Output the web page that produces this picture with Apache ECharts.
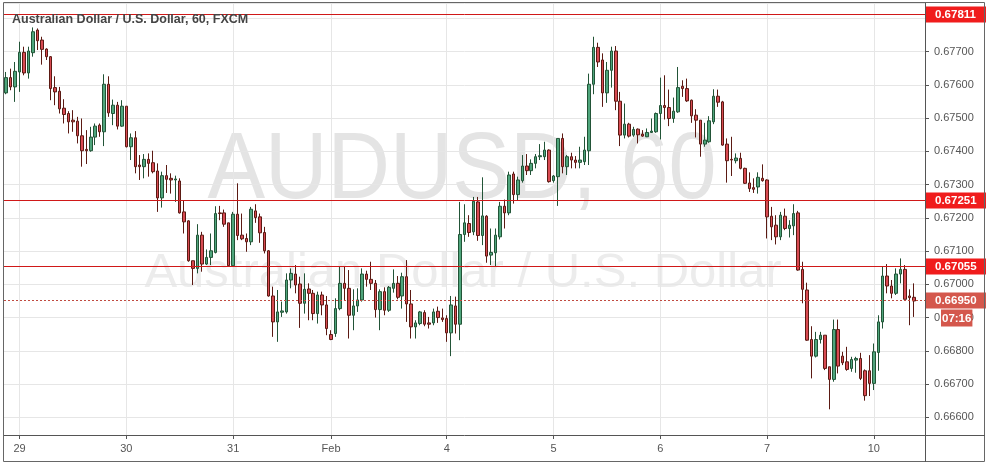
<!DOCTYPE html>
<html><head><meta charset="utf-8">
<script src="https://cdn.jsdelivr.net/npm/echarts@6/dist/echarts.min.js"></script>
<style>html,body{margin:0;padding:0;background:#fff}#c{width:986px;height:465px}</style>
</head><body><div id="c"></div>
<script>
// [open, close, low, high] hourly candles, AUDUSD 60, FXCM
const candles = [
[0.67576,0.67622,0.67572,0.67639],[0.67622,0.67594,0.67584,0.67649],[0.67594,0.67641,0.67549,0.67669],[0.67639,0.67698,0.67579,0.67730],
[0.67698,0.67636,0.67629,0.67715],[0.67636,0.67702,0.67619,0.67715],[0.67697,0.67760,0.67685,0.67773],[0.67765,0.67733,0.67705,0.67770],
[0.67735,0.67707,0.67661,0.67745],[0.67708,0.67685,0.67675,0.67710],[0.67685,0.67589,0.67554,0.67687],[0.67592,0.67579,0.67539,0.67626],
[0.67581,0.67528,0.67514,0.67594],[0.67530,0.67511,0.67484,0.67557],[0.67514,0.67489,0.67454,0.67521],[0.67494,0.67489,0.67459,0.67524],
[0.67491,0.67447,0.67424,0.67504],[0.67447,0.67402,0.67354,0.67499],[0.67406,0.67402,0.67362,0.67464],[0.67402,0.67443,0.67399,0.67474],
[0.67443,0.67476,0.67419,0.67484],[0.67479,0.67459,0.67444,0.67484],[0.67459,0.67602,0.67416,0.67632],[0.67602,0.67516,0.67504,0.67626],
[0.67514,0.67539,0.67479,0.67556],[0.67539,0.67476,0.67466,0.67549],[0.67476,0.67536,0.67474,0.67554],[0.67536,0.67414,0.67412,0.67536],
[0.67414,0.67441,0.67374,0.67454],[0.67441,0.67354,0.67334,0.67461],[0.67359,0.67354,0.67314,0.67389],[0.67354,0.67376,0.67319,0.67392],
[0.67376,0.67364,0.67324,0.67394],[0.67366,0.67339,0.67334,0.67402],[0.67341,0.67260,0.67218,0.67364],[0.67260,0.67327,0.67231,0.67339],
[0.67327,0.67316,0.67275,0.67359],[0.67319,0.67314,0.67273,0.67334],[0.67314,0.67317,0.67248,0.67327],[0.67311,0.67215,0.67213,0.67319],
[0.67218,0.67188,0.67153,0.67253],[0.67191,0.67071,0.67068,0.67193],[0.67071,0.67048,0.66998,0.67071],[0.67048,0.67148,0.67033,0.67181],
[0.67148,0.67061,0.67038,0.67158],[0.67061,0.67081,0.67058,0.67105],[0.67081,0.67101,0.67058,0.67153],[0.67096,0.67213,0.67093,0.67235],
[0.67215,0.67213,0.67193,0.67236],[0.67215,0.67181,0.67173,0.67225],[0.67185,0.67056,0.67053,0.67185],[0.67056,0.67211,0.67055,0.67218],
[0.67211,0.67147,0.67133,0.67304],[0.67148,0.67137,0.67133,0.67213],[0.67138,0.67128,0.67098,0.67153],[0.67128,0.67226,0.67118,0.67233],
[0.67221,0.67201,0.67185,0.67241],[0.67203,0.67155,0.67125,0.67213],[0.67156,0.67101,0.67093,0.67173],[0.67101,0.66965,0.66963,0.67103],
[0.66965,0.66887,0.66842,0.66993],[0.66887,0.66917,0.66827,0.66983],[0.66916,0.66920,0.66902,0.66948],[0.66917,0.67013,0.66912,0.67033],
[0.67013,0.67033,0.66988,0.67048],[0.67031,0.66998,0.66973,0.67058],[0.67001,0.66943,0.66869,0.67023],[0.66943,0.66985,0.66912,0.67033],
[0.66986,0.66973,0.66892,0.67003],[0.66973,0.66912,0.66892,0.66983],[0.66912,0.66968,0.66882,0.66978],[0.66968,0.66938,0.66907,0.66978],
[0.66938,0.66867,0.66847,0.66965],[0.66849,0.66834,0.66832,0.66862],[0.66852,0.66927,0.66842,0.66958],[0.66927,0.67003,0.66922,0.67053],
[0.67003,0.66988,0.66953,0.67053],[0.66988,0.66907,0.66837,0.67043],[0.66907,0.66935,0.66862,0.66985],[0.66935,0.66953,0.66917,0.66988],
[0.66953,0.67031,0.66948,0.67048],[0.67031,0.67015,0.66993,0.67041],[0.67015,0.67003,0.66983,0.67068],[0.67003,0.66924,0.66900,0.67013],
[0.66924,0.66978,0.66862,0.66985],[0.66978,0.66922,0.66907,0.66991],[0.66922,0.66991,0.66917,0.66995],[0.66988,0.67003,0.66975,0.67045],
[0.67003,0.66961,0.66955,0.67025],[0.66965,0.67023,0.66927,0.67035],[0.67023,0.66941,0.66887,0.67073],[0.66941,0.66872,0.66837,0.66983],
[0.66872,0.66884,0.66837,0.66892],[0.66882,0.66917,0.66877,0.66920],[0.66915,0.66880,0.66874,0.66922],[0.66884,0.66880,0.66867,0.66902],
[0.66884,0.66917,0.66877,0.66927],[0.66919,0.66900,0.66884,0.66933],[0.66899,0.66894,0.66887,0.66927],[0.66897,0.66854,0.66827,0.66907],
[0.66854,0.66938,0.66784,0.66965],[0.66935,0.66880,0.66852,0.66963],[0.66880,0.67150,0.66832,0.67248],[0.67150,0.67185,0.67128,0.67241],
[0.67183,0.67156,0.67143,0.67208],[0.67158,0.67250,0.67148,0.67263],[0.67248,0.67147,0.67131,0.67263],[0.67147,0.67206,0.67118,0.67322],
[0.67205,0.67085,0.67065,0.67208],[0.67088,0.67096,0.67058,0.67168],[0.67095,0.67148,0.67055,0.67168],[0.67143,0.67235,0.67135,0.67248],
[0.67235,0.67215,0.67168,0.67255],[0.67215,0.67329,0.67208,0.67339],[0.67332,0.67270,0.67243,0.67339],[0.67270,0.67314,0.67253,0.67324],
[0.67312,0.67356,0.67306,0.67389],[0.67356,0.67342,0.67329,0.67392],[0.67342,0.67364,0.67329,0.67376],[0.67364,0.67384,0.67349,0.67392],
[0.67384,0.67387,0.67374,0.67422],[0.67384,0.67404,0.67374,0.67429],[0.67404,0.67309,0.67306,0.67406],[0.67312,0.67326,0.67306,0.67329],
[0.67324,0.67439,0.67236,0.67439],[0.67439,0.67354,0.67334,0.67454],[0.67354,0.67384,0.67329,0.67389],[0.67384,0.67374,0.67349,0.67396],
[0.67374,0.67367,0.67349,0.67386],[0.67367,0.67374,0.67349,0.67414],[0.67369,0.67404,0.67359,0.67444],[0.67402,0.67602,0.67359,0.67634],
[0.67602,0.67713,0.67572,0.67745],[0.67713,0.67669,0.67654,0.67727],[0.67675,0.67576,0.67534,0.67695],[0.67576,0.67644,0.67546,0.67669],
[0.67644,0.67702,0.67592,0.67715],[0.67702,0.67551,0.67524,0.67717],[0.67551,0.67449,0.67416,0.67579],[0.67449,0.67482,0.67439,0.67544],
[0.67482,0.67446,0.67442,0.67486],[0.67449,0.67466,0.67444,0.67474],[0.67467,0.67450,0.67424,0.67469],[0.67452,0.67446,0.67444,0.67464],
[0.67444,0.67457,0.67443,0.67469],[0.67457,0.67461,0.67456,0.67499],[0.67459,0.67514,0.67456,0.67517],[0.67514,0.67538,0.67436,0.67622],
[0.67538,0.67532,0.67496,0.67629],[0.67532,0.67499,0.67476,0.67586],[0.67499,0.67521,0.67486,0.67562],[0.67519,0.67592,0.67516,0.67654],
[0.67596,0.67589,0.67564,0.67614],[0.67589,0.67552,0.67549,0.67619],[0.67554,0.67507,0.67486,0.67556],[0.67509,0.67494,0.67442,0.67527],
[0.67494,0.67422,0.67384,0.67494],[0.67422,0.67434,0.67414,0.67486],[0.67429,0.67492,0.67426,0.67506],[0.67489,0.67566,0.67482,0.67587],
[0.67566,0.67548,0.67534,0.67586],[0.67549,0.67419,0.67417,0.67552],[0.67422,0.67372,0.67306,0.67439],[0.67376,0.67374,0.67326,0.67444],
[0.67372,0.67380,0.67364,0.67394],[0.67379,0.67349,0.67346,0.67396],[0.67349,0.67304,0.67302,0.67351],[0.67305,0.67288,0.67278,0.67337],
[0.67291,0.67286,0.67275,0.67319],[0.67293,0.67322,0.67273,0.67337],[0.67319,0.67312,0.67309,0.67361],[0.67314,0.67203,0.67138,0.67316],
[0.67205,0.67173,0.67133,0.67233],[0.67178,0.67143,0.67120,0.67208],[0.67143,0.67208,0.67133,0.67218],[0.67205,0.67168,0.67163,0.67228],
[0.67168,0.67178,0.67141,0.67193],[0.67176,0.67213,0.67148,0.67241],[0.67215,0.67043,0.67041,0.67221],[0.67045,0.66985,0.66943,0.67068],
[0.66983,0.66832,0.66830,0.67005],[0.66834,0.66784,0.66717,0.66874],[0.66784,0.66834,0.66780,0.66857],[0.66834,0.66847,0.66822,0.66857],
[0.66847,0.66747,0.66742,0.66847],[0.66752,0.66714,0.66624,0.66752],[0.66714,0.66864,0.66707,0.66894],[0.66864,0.66754,0.66732,0.66894],
[0.66784,0.66764,0.66757,0.66797],[0.66767,0.66744,0.66740,0.66812],[0.66747,0.66774,0.66737,0.66782],[0.66772,0.66777,0.66734,0.66782],
[0.66777,0.66717,0.66712,0.66794],[0.66740,0.66665,0.66650,0.66744],[0.66740,0.66702,0.66664,0.66787],[0.66702,0.66797,0.66682,0.66822],
[0.66795,0.66887,0.66740,0.66907],[0.66887,0.67025,0.66867,0.67053],[0.67025,0.66995,0.66973,0.67061],[0.66995,0.66973,0.66958,0.67013],
[0.66973,0.67031,0.66968,0.67048],[0.67031,0.67045,0.67003,0.67078],[0.67045,0.66955,0.66955,0.67058],[0.66965,0.66960,0.66877,0.66985],
[0.66961,0.66950,0.66902,0.67003]
];
const emptyBarsRight = 2;
const dayTickIndex = [3, 27, 51, 73, 99, 123, 147, 171, 195];
const dayTickLabels = ['29', '30', '31', 'Feb', '4', '5', '6', '7', '10'];
const levels = [0.67811, 0.67251, 0.67055];
const lastPrice = 0.66950;
const countdown = '07:16';
const priceMin = 0.665467, priceMax = 0.678465;

const cats = Array.from({length: candles.length + emptyBarsRight}, (_, i) => String(i));
const isDay = (i) => dayTickIndex.indexOf(i) >= 0;
const font = 'Liberation Sans, Arial, sans-serif';
const levelColor = '#d01818', levelBox = '#f01c1c', lastColor = '#c04a40', lastBox = '#d4574c';

// rows: [x(unused), price, kind] kind 0 = horizontal level, 1 = last price
const lineRows = levels.map(v => [0, v, 0]).concat([[0, lastPrice, 1]]);

function renderLevel(params, api) {
  const v = api.value(1), isLast = api.value(2) === 1;
  const cs = params.coordSys;
  const y = Math.floor(api.coord([0, v])[1]) + 0.5;
  const right = cs.x + cs.width;
  const children = [
    {type: 'line', shape: {x1: cs.x, y1: y, x2: right, y2: y},
      style: {stroke: isLast ? lastColor : levelColor, lineWidth: 1, lineDash: isLast ? [2, 2] : null}},
    {type: 'text', x: right + 1, y: y, z2: 10,
      style: {text: v.toFixed(5), fill: '#fff', fontSize: 11.5, fontWeight: 'bold', fontFamily: font,
        backgroundColor: isLast ? lastBox : levelBox, padding: [2, 13, 2, 9], align: 'left', verticalAlign: 'middle'}}
  ];
  if (isLast) {
    children.push({type: 'text', x: right + 16, y: y + 9, z2: 10,
      style: {text: countdown, fill: '#fff', fontSize: 11.5, fontWeight: 'bold', fontFamily: font,
        backgroundColor: lastBox, padding: [3, 1, 2, 1], align: 'left', verticalAlign: 'top'}});
  }
  return {type: 'group', children: children};
}

const chart = echarts.init(document.getElementById('c'), null, {renderer: 'canvas'});
chart.setOption({
  animation: false,
  backgroundColor: '#ffffff',
  grid: {left: 4, right: 61, top: 3, bottom: 30, outerBoundsMode: 'none', containLabel: false},
  xAxis: {
    type: 'category', data: cats, boundaryGap: true,
    axisLine: {show: true, lineStyle: {color: '#555', width: 1}},
    axisTick: {show: true, alignWithLabel: true, length: 4, interval: (i) => isDay(i), lineStyle: {color: '#555'}},
    axisLabel: {show: true, interval: (i) => isDay(i), margin: 8, color: '#555', fontSize: 11, fontFamily: font,
      formatter: (v) => { const k = dayTickIndex.indexOf(Number(v)); return k >= 0 ? dayTickLabels[k] : ''; }},
    splitLine: {show: false}
  },
  yAxis: {
    type: 'value', position: 'right', min: priceMin, max: priceMax,
    minInterval: 0.001, maxInterval: 0.001,
    axisLine: {show: true, lineStyle: {color: '#555', width: 1}},
    axisTick: {show: true, length: 4, lineStyle: {color: '#555'}},
    axisLabel: {show: true, margin: 9, color: '#555', fontSize: 11, fontFamily: font, showMinLabel: false, showMaxLabel: false,
      formatter: (v) => Math.abs(v - 0.678) < 1e-7 ? '' : v.toFixed(5)},
    splitLine: {show: true, lineStyle: {color: '#e6e6e6', width: 1}}
  },
  series: [
    {
      type: 'line', data: [], silent: true, z: 1, color: '#e6e6e6',
      markLine: {
        silent: true, symbol: ['none', 'none'], z: 1, animation: false,
        label: {show: false},
        lineStyle: {color: '#e6e6e6', width: 1, type: 'solid'},
        data: dayTickIndex.map(i => ({xAxis: i}))
      }
    },
    {
      type: 'candlestick', data: candles, barWidth: 3, z: 2,
      itemStyle: {color: '#4fa57c', color0: '#d84a52', borderColor: '#225437', borderColor0: '#5b1a13', borderWidth: 1}
    },
    {
      type: 'custom', data: lineRows, encode: {x: 0, y: 1}, renderItem: renderLevel,
      silent: true, clip: false, z: 5
    }
  ],
  graphic: [
    {type: 'text', z: -10, silent: true, x: 462, y: 172, scaleX: 0.91,
      style: {text: 'AUDUSD, 60', fontSize: 95, fontFamily: font, fill: '#e4e4e4', align: 'center', verticalAlign: 'middle'}},
    {type: 'text', z: -10, silent: true, x: 463, y: 273,
      style: {text: 'Australian Dollar / U.S. Dollar', fontSize: 49, fontFamily: font, fill: '#ececec', align: 'center', verticalAlign: 'middle'}},
    {type: 'text', z: 50, silent: true, x: 12, y: 13,
      style: {text: 'Australian Dollar / U.S. Dollar, 60, FXCM', fontSize: 12.5, fontWeight: 'bold', fontFamily: font, fill: '#444'}},
    {type: 'rect', z: 60, silent: true, shape: {x: 3.5, y: 2.5, width: 981, height: 459}, style: {fill: null, stroke: '#666', lineWidth: 1}},
    {type: 'line', z: 60, silent: true, shape: {x1: 925.5, y1: 435, x2: 925.5, y2: 462}, style: {stroke: '#555', lineWidth: 1}},
    {type: 'line', z: 60, silent: true, shape: {x1: 925, y1: 435.5, x2: 985, y2: 435.5}, style: {stroke: '#555', lineWidth: 1}}
  ]
});
</script>
</body></html>
